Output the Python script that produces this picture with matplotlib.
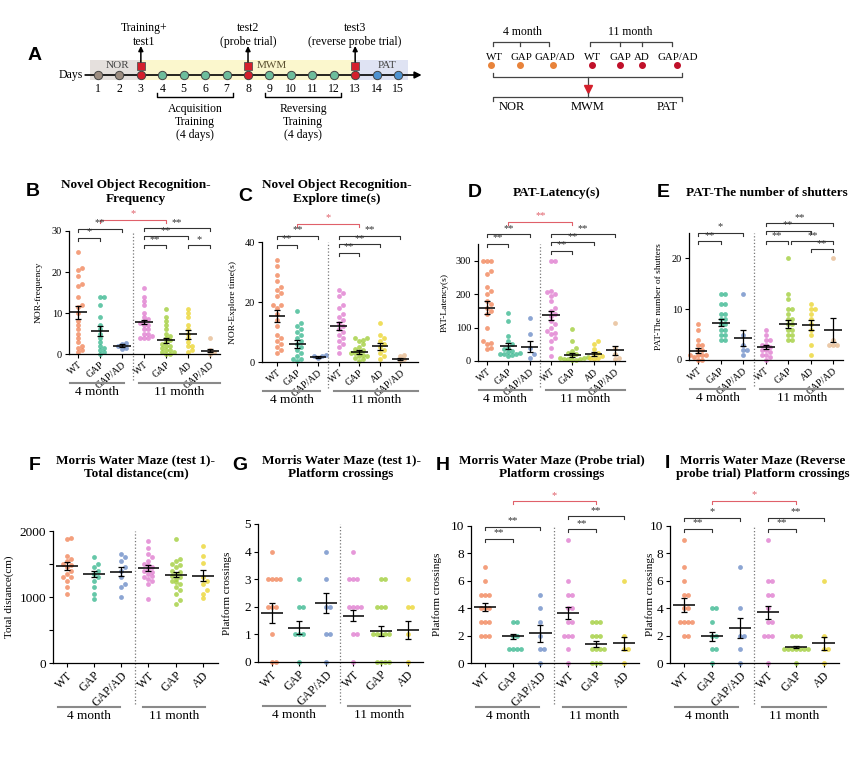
import numpy as np
import matplotlib
matplotlib.use("Agg")
import matplotlib.pyplot as plt
from matplotlib.transforms import blended_transform_factory, offset_copy

plt.rcParams['font.family'] = ['Liberation Serif', 'DejaVu Serif']

W, H = 865, 770

# ---------------- data ----------------
days = list(range(1, 16))
day_phase = ['NOR', 'NOR', 'test', 'MWM', 'MWM', 'MWM', 'MWM', 'test',
             'MWM', 'MWM', 'MWM', 'MWM', 'test', 'PAT', 'PAT']
test_days = [3, 8, 13]
test_labels = ['Training+\ntest1', 'test2\n(probe trial)', 'test3\n(reverse probe trial)']

sched_groups = ['WT', 'GAP', 'GAP/AD', 'WT', 'GAP', 'AD', 'GAP/AD']
sched_age = ['4', '4', '4', '11', '11', '11', '11']

labels_top = ['WT', 'GAP', 'GAP/AD', 'WT', 'GAP', 'AD', 'GAP/AD']
labels_bot = ['WT', 'GAP', 'GAP/AD', 'WT', 'GAP', 'AD']
colors = ['#f2875c', '#3fb993', '#6f8fc8', '#e07fd0', '#a3cf3e', '#ecd634', '#e6bc92']

# B  NOR frequency
nor_freq = [
    [25, 21, 20.5, 19, 17, 16.5, 14, 12, 11.5, 10, 8, 7, 6, 5, 4, 3, 2, 1.5, 1, 0.5],
    [14, 14, 12, 9, 7, 6, 5, 4, 3, 2, 1.5, 1, 0.5, 0],
    [2.8, 2.5, 2, 1.5, 1.2],
    [16, 14, 13, 12, 10, 9, 8.5, 8, 7.5, 7, 7, 6, 6, 5, 5, 4.5, 4, 4, 4],
    [11, 9, 8, 7, 6, 5, 4.5, 4, 3.5, 3, 2.5, 2, 2, 1.5, 1, 1, 0.5, 0.5, 0, 0],
    [11, 10, 9, 7, 6, 5, 4, 3, 2, 2, 1, 0.5],
    [4, 1, 0.5, 0],
]
nor_freq_mean = [10.2, 5.6, 2.0, 7.8, 3.3, 4.8, 0.8]
nor_freq_sem = [1.6, 1.2, 0.4, 0.6, 0.6, 1.1, 0.4]

# C  NOR explore time
nor_time = [
    [34, 32, 29, 27, 25, 24, 23, 22, 19, 19, 18, 16, 14, 12, 9, 8, 7, 6, 5, 4, 3],
    [17, 13, 12, 11, 10, 9, 8, 7, 6, 5, 4, 3, 2, 1, 1, 0.5],
    [2.5, 2, 2, 1.5],
    [24, 23, 22, 19, 18, 16, 15, 14, 13, 12, 11, 10, 9, 8, 7, 6, 5, 3],
    [8, 8, 7.5, 7, 6, 5, 4.5, 4, 3.5, 3, 3, 2.5, 2, 2, 1.5, 1, 0.5],
    [13, 9, 8, 7, 6, 5, 4, 3, 2, 1],
    [2.5, 2, 1, 0.5],
]
nor_time_mean = [15.3, 6.1, 1.7, 11.9, 3.3, 5.2, 1.1]
nor_time_sem = [1.9, 1.3, 0.3, 1.3, 0.6, 1.2, 0.4]

# D  PAT latency
pat_lat = [
    [300, 300, 300, 270, 260, 220, 210, 200, 180, 170, 160, 150, 140, 100, 60, 55, 50, 40, 35],
    [145, 120, 75, 60, 50, 40, 35, 30, 28, 25, 22, 20, 20, 18, 15],
    [130, 80, 40, 20, 10],
    [300, 300, 210, 205, 200, 195, 180, 160, 150, 140, 135, 120, 110, 100, 90, 85, 80, 70, 60, 40, 15],
    [95, 60, 40, 30, 25, 20, 15, 12, 10, 8, 6, 5, 5, 3, 2],
    [60, 50, 35, 25, 20, 15, 10, 8, 5],
    [115, 40, 20, 10, 5],
]
pat_lat_mean = [160, 45, 43, 137, 18, 20, 32]
pat_lat_sem = [19, 9, 17, 14, 5, 6, 13]

# E  PAT shutters
pat_shut = [
    [7, 6, 4, 3, 3, 2, 2, 1, 1, 1, 1, 0.5, 0, 0],
    [13, 13, 11, 11, 9, 9, 8, 8, 7, 7, 6, 6, 5, 5, 4, 4],
    [13, 5, 3, 2, 2, 1],
    [6, 5, 4, 4, 3, 3, 2.5, 2, 2, 1.5, 1, 1, 0.5, 0],
    [20, 13, 12, 10, 10, 9, 8, 8, 7, 7, 6, 6, 5, 5, 4, 4],
    [11, 10, 10, 9, 8, 7, 6, 5, 3, 1],
    [20, 4, 3, 3, 3],
]
pat_shut_mean = [1.8, 7.3, 4.3, 2.5, 7.1, 6.9, 5.9]
pat_shut_sem = [0.5, 0.7, 1.6, 0.4, 0.8, 0.9, 2.4]

# F  MWM test1 distance
mwm_dist = [
    [1900, 1880, 1620, 1580, 1550, 1500, 1480, 1450, 1400, 1350, 1300, 1300, 1250, 1150, 1050],
    [1600, 1500, 1450, 1400, 1350, 1300, 1250, 1150, 1050, 970],
    [1650, 1600, 1550, 1450, 1400, 1300, 1200, 1150, 1000],
    [1850, 1750, 1650, 1600, 1550, 1500, 1480, 1450, 1420, 1400, 1380, 1350, 1320, 1300, 1280, 1250, 1200, 970],
    [1880, 1580, 1550, 1500, 1480, 1450, 1400, 1380, 1350, 1320, 1300, 1280, 1250, 1220, 1200, 1150, 1100, 1050, 950, 900],
    [1780, 1620, 1520, 1300, 1250, 1200, 1100, 1050, 980],
]
mwm_dist_mean = [1467, 1346, 1381, 1436, 1336, 1325]
mwm_dist_sem = [60, 50, 70, 45, 40, 80]

# G  MWM test1 crossings
mwm_t1 = [
    [4, 3, 3, 3, 3, 2, 2, 2, 1, 0, 0],
    [3, 2, 2, 1, 1, 1, 0],
    [4, 3, 2, 2, 1, 1, 0],
    [4, 3, 3, 3, 2, 2, 2, 2, 1, 1, 0],
    [3, 3, 2, 2, 2, 1, 1, 1, 1, 1, 0, 0, 0, 0],
    [3, 2, 2, 1, 0],
]
mwm_t1_mean = [1.77, 1.25, 2.13, 1.67, 1.13, 1.17]
mwm_t1_sem = [0.36, 0.25, 0.36, 0.2, 0.17, 0.33]

# H  MWM probe trial crossings
mwm_probe = [
    [7, 6, 5, 5, 5, 4, 4, 4, 3, 3, 3, 2, 2, 2],
    [3, 3, 2, 2, 1, 1, 1, 1],
    [5, 4, 3, 2, 1, 1, 0],
    [9, 6, 5, 5, 4, 4, 3, 3, 2, 2, 2, 1, 0],
    [3, 3, 3, 2, 2, 2, 1, 1, 1, 1, 0, 0, 0],
    [6, 2, 1, 1, 0],
]
mwm_probe_mean = [4.08, 1.94, 2.16, 3.64, 1.38, 1.43]
mwm_probe_sem = [0.3, 0.2, 0.6, 0.45, 0.2, 0.45]

# I  MWM reverse probe trial crossings
mwm_rev = [
    [9, 7, 6, 5, 5, 4, 4, 3, 3, 3, 3, 2, 2],
    [4, 4, 3, 2, 2, 1, 1, 0],
    [7, 4, 2, 2, 1, 0],
    [9, 6, 6, 5, 5, 4, 3, 3, 2, 2, 2, 0],
    [2, 2, 2, 1, 1, 1, 1, 1, 1, 1, 0],
    [6, 2, 1, 1, 0],
]
mwm_rev_mean = [4.22, 1.94, 2.55, 3.69, 1.17, 1.43]
mwm_rev_sem = [0.5, 0.35, 0.75, 0.45, 0.1, 0.45]

# significance brackets: (group i, group j, height, label, red)
br_B = [(0, 1, 28.4, '*', 0), (0, 2, 30.6, '**', 0), (1, 4, 32.7, '*', 1),
        (3, 4, 26.5, '**', 0), (3, 5, 28.7, '**', 0), (3, 6, 30.7, '**', 0), (5, 6, 26.5, '*', 0)]
br_C = [(0, 1, 39.1, '**', 0), (0, 2, 42, '**', 0), (1, 4, 46, '*', 1),
        (3, 4, 36.4, '**', 0), (3, 5, 39.2, '**', 0), (3, 6, 42, '**', 0)]
br_D = [(0, 1, 350, '**', 0), (0, 2, 379, '**', 0), (1, 4, 417, '**', 1),
        (3, 4, 329, '**', 0), (3, 5, 355, '**', 0), (3, 6, 379, '**', 0)]
br_E = [(0, 1, 23.4, '**', 0), (0, 2, 25.0, '*', 0), (3, 4, 23.4, '**', 0), (4.15, 6, 23.4, '**', 0),
        (5, 6, 21.8, '**', 0), (3, 5, 25.4, '**', 0), (3, 6, 26.9, '**', 0)]
br_H = [(0, 1, 9.05, '**', 0), (0, 2, 9.95, '**', 0), (1, 4, 11.8, '*', 1),
        (3, 4, 9.75, '**', 0), (3, 5, 10.7, '**', 0)]
br_I = [(0, 1, 9.8, '**', 0), (0, 2, 10.6, '*', 0), (1, 4, 11.85, '*', 1),
        (3, 4, 9.8, '**', 0), (3, 5, 10.6, '**', 0)]

fig = plt.figure(figsize=(W / 100, H / 100), dpi=100)


def add_ax(x0, y0, x1, y1):
    return fig.add_axes([x0 / W, 1 - y1 / H, (x1 - x0) / W, (y1 - y0) / H])


def ftext(x, y, s, **kw):
    fig.text(x / W, 1 - y / H, s, **kw)


def swarm(vals, ppu, ppc, d=4.0):
    # simple beeswarm: push a point sideways until it clears the ones already placed
    vals = np.asarray(vals, float)
    xs = np.zeros(len(vals))
    placed = []
    for i in np.argsort(vals):
        y = vals[i] * ppu
        k = 0
        while True:
            x = ((k + 1) // 2) * d * (1 if k % 2 else -1)
            if all((x - px) ** 2 + (y - py) ** 2 >= 0.95 * d * d for px, py in placed):
                break
            k += 1
        placed.append((x, y))
        xs[i] = x / ppc
    return xs


def dot_panel(box, xlim, ylim, yticks, yticklabels, values, means, sems, labels,
              brackets, ylabel, ylabel_px, top):
    x0, y0, x1, y1 = box
    ax = add_ax(*box)
    ax.set_xlim(*xlim)
    ax.set_ylim(*ylim)
    ppu = (y1 - y0) / (ylim[1] - ylim[0])
    ppc = (x1 - x0) / (xlim[1] - xlim[0])
    for i, (vals, m, s) in enumerate(zip(values, means, sems)):
        xs = i + swarm(vals, ppu, ppc)
        ax.scatter(xs, vals, s=12, color=colors[i], alpha=0.8, lw=0, zorder=2, clip_on=False)
        ax.hlines(m, i - 0.4, i + 0.4, color='k', lw=1.1, zorder=4)
        ax.errorbar(i, m, yerr=s, fmt='none', ecolor='k', elinewidth=0.9,
                    capsize=2, capthick=0.9, zorder=4)

    tick = 3 / ppu
    for i, j, y, lab, red in brackets:
        c = '#e0606a' if red else '#333333'
        ax.plot([i, i, j, j], [y - tick, y, y, y - tick], color=c, lw=0.8, clip_on=False)
        ax.text((i + j) / 2, y + 0.5 * tick, lab, ha='center', va='bottom', fontsize=7.5, color=c)

    for sp in ['top', 'right']:
        ax.spines[sp].set_visible(False)
    for sp in ['left', 'bottom']:
        ax.spines[sp].set_linewidth(0.9)
    ax.set_yticks(yticks)
    ax.set_yticklabels(yticklabels)
    ax.set_xticks(range(len(labels)))
    if top:
        fs_y, fs_x, rot, fs_lab, l_off, t_off = 7.5, 7, 40, 6.8, 29, 38
        lines = [(xlim[0] + 0.05, 2.1), (2.77, xlim[1])]
    else:
        fs_y, fs_x, rot, fs_lab, l_off, t_off = 9.5, 8.5, 45, 8, 44, 53
        lines = [(-0.32, 1.95), (2.8, 5.08)]
    ax.set_xticklabels(labels, rotation=rot, ha='right', rotation_mode='anchor', fontsize=fs_x)
    ax.tick_params(axis='y', labelsize=fs_y, length=3, width=0.8, pad=2)
    ax.tick_params(axis='x', length=3, width=0.8, pad=1.5)
    ax.set_ylabel(ylabel, fontsize=fs_lab)
    ax.yaxis.set_label_coords((ylabel_px - x0) / (x1 - x0), 0.5)

    tr = blended_transform_factory(ax.transData, ax.transAxes)
    ax.plot([2.5, 2.5], [-(l_off - 3) / (y1 - y0), 1], transform=tr, ls=':',
            color='#777777', lw=0.9, clip_on=False)
    tr_l = offset_copy(tr, fig=fig, y=-l_off, units='dots')
    tr_t = offset_copy(tr, fig=fig, y=-t_off, units='dots')
    for (a, b), name in zip(lines, ['4 month', '11 month']):
        ax.plot([a, b], [0, 0], transform=tr_l, color='#8a8a8a', lw=1.5, clip_on=False)
        ax.text((a + b) / 2, 0, name, transform=tr_t, ha='center', va='center', fontsize=9.5)
    return ax


# ---------------- panel A: timeline ----------------
d0_px, step_px = 98, 21.43
axA = add_ax(0, 0, 440, 145)
axA.set_xlim((0 - d0_px) / step_px + 1, (440 - d0_px) / step_px + 1)
axA.set_ylim(145, 0)
axA.axis('off')

axA.fill_between([0.63, 3], 60, 80, color='#e5e0dd', lw=0)
axA.fill_between([3, 13], 60, 80, color='#fbf7cd', lw=0)
axA.fill_between([13, 15.45], 60, 80, color='#dfe3f3', lw=0)
axA.annotate('', xy=(16.1, 75), xytext=(0.4, 75),
             arrowprops=dict(arrowstyle='-|>', lw=1.2, color='k', mutation_scale=10,
                             shrinkA=0, shrinkB=0))
axA.text(0.3, 75, 'Days', ha='right', va='center', fontsize=8.5)

phase_colors = {'NOR': '#9c8c80', 'test': '#d4202c', 'MWM': '#6dbd9c', 'PAT': '#4d92d1'}
for d, ph in zip(days, day_phase):
    axA.plot(d, 75, 'o', ms=6, mfc=phase_colors[ph], mec='#444444', mew=0.7, zorder=3)
    axA.text(d, 89, str(d), ha='center', va='center', fontsize=8.5)

for d, lab in zip(test_days, test_labels):
    axA.plot(d, 66, 's', ms=5.5, mfc='#d4202c', mec='#555555', mew=0.6, zorder=3)
    axA.annotate('', xy=(d, 46), xytext=(d, 62),
                 arrowprops=dict(arrowstyle='-|>', lw=1.1, color='k', mutation_scale=7,
                                 shrinkA=0, shrinkB=0))
    axA.text(d + (0.15 if d == 3 else 0), 35, lab, ha='center', va='center',
             fontsize=8.5, linespacing=1.3)

axA.text(1.89, 66, 'NOR', ha='center', va='center', fontsize=8, color='#444444')
axA.text(9.12, 66, 'MWM', ha='center', va='center', fontsize=8, color='#5a5030')
axA.text(14.49, 66, 'PAT', ha='center', va='center', fontsize=8, color='#444444')

for a, b, txt in [(3.75, 7.3, 'Acquisition\nTraining\n(4 days)'),
                  (8.79, 12.34, 'Reversing\nTraining\n(4 days)')]:
    axA.plot([a, a, b, b], [93, 97, 97, 93], color='k', lw=1.0)
    axA.text((a + b) / 2, 122, txt, ha='center', va='center', fontsize=8.5, linespacing=1.15)

ftext(35, 55, 'A', fontsize=14, fontweight='bold', family='Liberation Sans', ha='center', va='center')

# ---------------- right schematic ----------------
axR = add_ax(470, 0, 800, 130)
axR.set_xlim(470, 800)
axR.set_ylim(130, 0)
axR.axis('off')
label_x = [494, 521, 555, 592, 620, 642, 678]
dot_x = [491, 520, 553, 592, 620, 642, 677]
for lx, dx, g, age in zip(label_x, dot_x, sched_groups, sched_age):
    axR.text(lx, 57, g, ha='center', va='center', fontsize=7.8)
    axR.plot(dx, 65, 'o', ms=4, color='#e8833a' if age == '4' else '#c0102a')
axR.text(522, 32, '4 month', ha='center', va='center', fontsize=8.5)
axR.text(630, 32, '11 month', ha='center', va='center', fontsize=8.5)
axR.plot([493, 493, 549, 549], [46, 42, 42, 46], color='#444444', lw=0.9)
axR.plot([520, 520], [42, 46], color='#444444', lw=0.9)
axR.plot([590, 590, 672, 672], [46, 42, 42, 46], color='#444444', lw=0.9)
for tx in [620, 642]:
    axR.plot([tx, tx], [42, 46], color='#444444', lw=0.9)
axR.plot([493, 493, 682, 682], [73, 77, 77, 73], color='#444444', lw=0.9)
axR.plot([588, 588], [77, 86], color='#444444', lw=0.9)
axR.plot(588, 89, 'v', ms=6, color='#d4202c')
axR.plot([493, 493, 682, 682], [101, 97, 97, 101], color='#444444', lw=0.9)
axR.plot([588, 588], [93, 97], color='#444444', lw=0.9)
axR.text(512, 107, 'NOR', ha='center', va='center', fontsize=9)
axR.text(588, 107, 'MWM', ha='center', va='center', fontsize=9)
axR.text(667, 107, 'PAT', ha='center', va='center', fontsize=9)

# ---------------- top row ----------------
dot_panel((69, 231, 220, 354), (-0.42, 6.45), (0, 30), [0, 10, 20, 30], ['0', '10', '20', '30'],
          nor_freq, nor_freq_mean, nor_freq_sem, labels_top, br_B, 'NOR-frequency', 43, True)
dot_panel((262, 242, 418, 362), (-0.72, 6.85), (0, 40), [0, 20, 40], ['0', '20', '40'],
          nor_time, nor_time_mean, nor_time_sem, labels_top, br_C, 'NOR-Explore time(s)', 237, True)
dot_panel((478, 244, 625, 361), (-0.42, 6.47), (0, 350), [0, 100, 200, 300], ['0', '100', '200', '300'],
          pat_lat, pat_lat_mean, pat_lat_sem, labels_top, br_D, 'PAT-Latency(s)', 449, True)
dot_panel((689, 233, 843, 360), (-0.4, 6.44), (0, 25), [0, 10, 20], ['0', '10', '20'],
          pat_shut, pat_shut_mean, pat_shut_sem, labels_top, br_E, 'PAT-The number of shutters', 663, True)

# ---------------- bottom row ----------------
dot_panel((53, 531, 218, 663), (-0.5, 5.55), (0, 2000), [0, 500, 1000, 1500, 2000],
          ['0', '', '1000', '', '2000'],
          mwm_dist, mwm_dist_mean, mwm_dist_sem, labels_bot, [], 'Total distance(cm)', 14, False)
dot_panel((258, 524, 423, 662), (-0.5, 5.55), (0, 5), [0, 1, 2, 3, 4, 5], ['0', '1', '2', '3', '4', '5'],
          mwm_t1, mwm_t1_mean, mwm_t1_sem, labels_bot, [], 'Platform crossings', 232, False)
dot_panel((471, 526, 639, 663), (-0.5, 5.55), (0, 10), [0, 2, 4, 6, 8, 10],
          ['0', '2', '4', '6', '8', '10'],
          mwm_probe, mwm_probe_mean, mwm_probe_sem, labels_bot, br_H, 'Platform crossings', 442, False)
dot_panel((670, 526, 839, 663), (-0.5, 5.55), (0, 10), [0, 2, 4, 6, 8, 10],
          ['0', '2', '4', '6', '8', '10'],
          mwm_rev, mwm_rev_mean, mwm_rev_sem, labels_bot, br_I, 'Platform crossings', 655, False)

# ---------------- titles and letters ----------------
tkw = dict(ha='center', va='center', fontsize=9.5, fontweight='bold', linespacing=1.15)
lkw = dict(ha='center', va='center', fontsize=14, fontweight='bold', family='Liberation Sans')
ftext(136, 192, 'Novel Object Recognition-\nFrequency', **tkw)
ftext(337, 192, 'Novel Object Recognition-\nExplore time(s)', **tkw)
ftext(557, 193, 'PAT-Latency(s)', **tkw)
ftext(767, 193, 'PAT-The number of shutters', **tkw)
ftext(136, 467, 'Morris Water Maze (test 1)-\nTotal distance(cm)', **tkw)
ftext(341, 467, 'Morris Water Maze (test 1)-\nPlatform crossings', **tkw)
ftext(552, 467, 'Morris Water Maze (Probe trial)\nPlatform crossings', **tkw)
ftext(763, 467, 'Morris Water Maze (Reverse\nprobe trial) Platform crossings', **tkw)
for x, y, s in [(33, 192, 'B'), (245, 197, 'C'), (475, 193, 'D'), (663, 193, 'E'),
                (35, 465, 'F'), (240, 465, 'G'), (443, 465, 'H'), (667, 463, 'I')]:
    ftext(x, y, s, **lkw)

fig.savefig('out.png', dpi=100)
